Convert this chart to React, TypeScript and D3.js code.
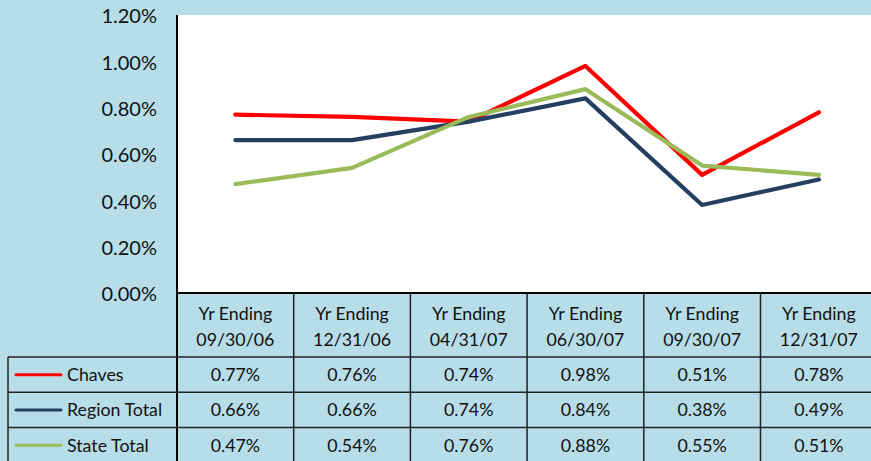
import React from "react";
import * as d3 from "d3";

const categories = ["09/30/06", "12/31/06", "04/31/07", "06/30/07", "09/30/07", "12/31/07"];
const chaves = [0.77, 0.76, 0.74, 0.98, 0.51, 0.78];
const regionTotal = [0.66, 0.66, 0.74, 0.84, 0.38, 0.49];
const stateTotal = [0.47, 0.54, 0.76, 0.88, 0.55, 0.51];
const yTicks = [0, 0.2, 0.4, 0.6, 0.8, 1.0, 1.2];

const series = [
  { name: "Chaves", values: chaves, color: "#ff0000" },
  { name: "Region Total", values: regionTotal, color: "#243f60" },
  { name: "State Total", values: stateTotal, color: "#9bbb59" },
];

const W = 871, H = 461;
const plotLeft = 177, plotTop = 15, plotBottom = 293;
const colW = 116.7;
const plotRight = plotLeft + colW * categories.length;
const headerBottom = 357;
const rowH = 35.3;
const legendLeft = 8;
const font = "Lato, 'Open Sans', sans-serif";
const bg = "#b7dde8";
const grid = "#222";
const fs = 17.8;

export default function App() {
  const x = d3.scaleBand<string>().domain(categories).range([plotLeft, plotRight]);
  const y = d3.scaleLinear().domain([0, 1.2]).range([plotBottom, plotTop]);
  const line = d3
    .line<number>()
    .x((_, i) => (x(categories[i]) as number) + x.bandwidth() / 2)
    .y((d) => y(d));

  return (
    <svg width={W} height={H} style={{ position: "absolute", left: 0, top: 0, display: "block" }}>
      <rect x={0} y={0} width={W} height={H} fill={bg} />
      <rect x={plotLeft} y={plotTop} width={plotRight - plotLeft} height={plotBottom - plotTop} fill="#fff" />
      {yTicks.map((t) => (
        <text key={t} x={157} y={y(t) + 1} dy="0.36em" textAnchor="end" fontFamily={font} fontSize={20} fill="#111">
          {d3.format(".2%")(t / 100)}
        </text>
      ))}
      {series.map((s) => (
        <path key={s.name} d={line(s.values) || ""} fill="none" stroke={s.color} strokeWidth={4.2} strokeLinejoin="round" strokeLinecap="round" />
      ))}
      <line x1={plotLeft} x2={plotLeft} y1={plotTop} y2={H} stroke="#000" strokeWidth={2} />
      <line x1={plotLeft} x2={W} y1={plotBottom} y2={plotBottom} stroke="#000" strokeWidth={2} />
      {categories.map((c, i) => {
        const x0 = x(c) as number;
        const cx = x0 + x.bandwidth() / 2;
        return (
          <g key={c}>
            {i > 0 && <line x1={x0} x2={x0} y1={plotBottom} y2={H} stroke={grid} strokeWidth={1.5} />}
            <text x={cx} y={314} dy="0.36em" textAnchor="middle" fontFamily={font} fontSize={fs} fill="#111">Yr Ending</text>
            <text x={cx} y={340} dy="0.36em" textAnchor="middle" fontFamily={font} fontSize={fs} fill="#111">{c}</text>
            {series.map((s, j) => (
              <text key={s.name} x={cx} y={headerBottom + rowH * j + rowH / 2} dy="0.36em" textAnchor="middle" fontFamily={font} fontSize={fs} fill="#111">
                {d3.format(".2%")(s.values[i] / 100)}
              </text>
            ))}
          </g>
        );
      })}
      {[0, 1, 2, 3].map((j) => (
        <line key={j} x1={legendLeft} x2={W} y1={headerBottom + rowH * j} y2={headerBottom + rowH * j} stroke={grid} strokeWidth={1.5} />
      ))}
      <line x1={legendLeft} x2={legendLeft} y1={headerBottom} y2={H} stroke={grid} strokeWidth={1.5} />
      {series.map((s, j) => {
        const cy = headerBottom + rowH * j + rowH / 2;
        return (
          <g key={s.name}>
            <line x1={16} x2={61} y1={cy} y2={cy} stroke={s.color} strokeWidth={3} strokeLinecap="round" />
            <text x={67} y={cy} dy="0.36em" fontFamily={font} fontSize={fs} fill="#111">{s.name}</text>
          </g>
        );
      })}
    </svg>
  );
}
